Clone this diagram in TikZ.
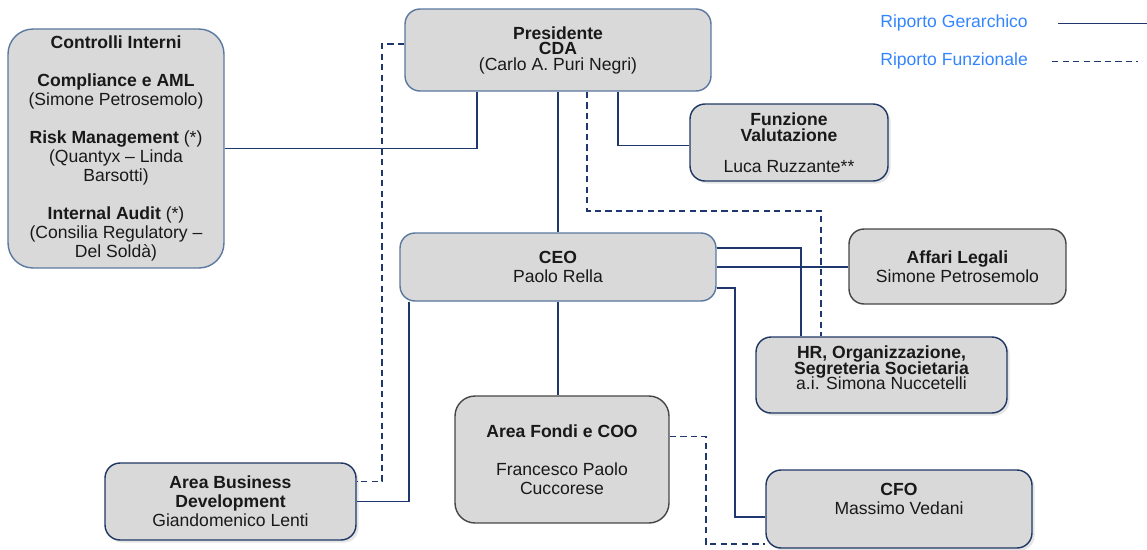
\documentclass[tikz,border=0pt]{standalone}
\usepackage{fontspec}
\setmainfont{Liberation Sans}
\usetikzlibrary{calc,shadows}

\definecolor{boxfill}{RGB}{217,217,217}
\definecolor{edgeblue}{RGB}{90,120,160}
\definecolor{edgenavy}{RGB}{30,55,100}
\definecolor{edgegray}{RGB}{70,70,70}
\definecolor{linknavy}{RGB}{30,55,110}
\definecolor{legendblue}{RGB}{51,133,255}

\begin{document}
\begin{tikzpicture}[x=0.02cm, y=-0.02cm,
    font=\fontsize{10}{10.8}\selectfont,
    box/.style={fill=boxfill, rounded corners=0.3cm, line width=0.8pt,
        inner sep=0pt, align=center, text=black!90},
    lightbox/.style={box, draw=edgeblue},
    navybox/.style={box, draw=edgenavy,
        drop shadow={shadow xshift=1.5pt, shadow yshift=-1.5pt, opacity=0.25, fill=black!40}},
    graybox/.style={box, draw=edgegray},
    boxtext/.style={align=center, inner sep=0pt, text=black!90},
    ger/.style={draw=linknavy, line width=1.1pt},
    fun/.style={ger, dash pattern=on 3.6pt off 2.4pt},
    legend/.style={text=legendblue, inner sep=0pt, anchor=west}]

    \useasboundingbox (0,0) rectangle (1147,549);

    % Boxes
    \node[lightbox, rounded corners=0.5cm, minimum width=4.32cm, minimum height=4.78cm] (ctrl) at (116,148.5)
        {\textbf{Controlli Interni}\\[10.8pt]
         \textbf{Compliance e AML}\\(Simone Petrosemolo)\\[10.8pt]
         \textbf{Risk Management} (*)\\(Quantyx – Linda\\Barsotti)\\[10.8pt]
         \textbf{Internal Audit} (*)\\(Consilia Regulatory –\\Del Soldà)};
    \node[lightbox, minimum width=6.12cm, minimum height=1.64cm] (pres) at (558,50)
        {\textbf{Presidente}\\[-2pt]\textbf{CDA}\\[-2pt](Carlo A. Puri Negri)};
    \node[navybox, minimum width=3.96cm, minimum height=1.54cm] (fval) at (789,142.5)
        {\textbf{Funzione}\\[-1.7pt]\textbf{Valutazione}\\[6.8pt]Luca Ruzzante**};
    \node[lightbox, minimum width=6.32cm, minimum height=1.36cm] (ceo) at (558,267)
        {\textbf{CEO}\\Paolo Rella};
    \node[graybox, minimum width=4.34cm, minimum height=1.5cm] (legali) at (957.5,266.5)
        {\textbf{Affari Legali}\\Simone Petrosemolo};
    \node[navybox, minimum width=5.02cm, minimum height=1.52cm] (hr) at (881.5,375) {};
    \node[boxtext] (hrtxt) at (881.5,368)
        {\textbf{HR, Organizzazione,}\\[-2pt]\textbf{Segreteria Societaria}\\[-2pt]a.i. Simona Nuccetelli};
    \node[graybox, rounded corners=0.4cm, minimum width=4.28cm, minimum height=2.54cm] (fondi) at (562,459.5)
        {\textbf{Area Fondi e COO}\\[10.8pt]Francesco Paolo\\Cuccorese};
    \node[navybox, minimum width=5.02cm, minimum height=1.54cm] (abd) at (230.5,501.5)
        {\textbf{Area Business}\\\textbf{Development}\\Giandomenico Lenti};
    \node[navybox, minimum width=5.32cm, minimum height=1.56cm] (cfo) at (899,509) {};
    \node[boxtext] (cfotxt) at (899,499) {\textbf{CFO}\\Massimo Vedani};

    % Riporto gerarchico
    \draw[ger] (ctrl.east) -| ($(pres.south west)+(73,0)$);
    \draw[ger] (ceo.north |- pres.south) -- (ceo.north);
    \draw[ger] ($(pres.south west)+(214,0)$) |- ($(fval.west)+(0,3)$);
    \draw[ger] (ceo.east) -- (ceo.east -| legali.west);
    \draw[ger] ($(ceo.north east)+(0,16)$) -| ($(hr.north west)+(46,0)$);
    \draw[ger] ($(ceo.south east)+(0,-14)$) -| ($(cfo.west)+(-30,8)$) -- ($(cfo.west)+(0,8)$);
    \draw[ger] (ceo.south) -- (ceo.south |- fondi.north);
    \draw[ger] ($(ceo.south west)+(10,0)$) |- (abd.east);

    % Riporto funzionale
    \draw[fun] ($(pres.south west)+(183,0)$) -- ++(0,119) -| ($(hr.north west)+(66,0)$);
    \draw[fun] ($(pres.west)+(0,-6)$) -- ++(-22,0) |- ($(abd.east)+(0,-20)$);
    \draw[fun] ($(fondi.east)+(0,-23)$) -- ++(36,0) |- ($(cfo.south west)+(0,-5)$);

    % Legenda
    \node[legend] (gertxt) at (880,22.5) {Riporto Gerarchico};
    \node[legend] (funtxt) at (880,61) {Riporto Funzionale};
    \coordinate (gerL) at (1058,23.5);
    \coordinate (gerR) at (1147,23.5);
    \coordinate (funL) at (1052,61.5);
    \coordinate (funR) at (1138,61.5);
    \draw[ger] (gerL) -- (gerR);
    \draw[fun] (funL) -- (funR);
\end{tikzpicture}
\end{document}
